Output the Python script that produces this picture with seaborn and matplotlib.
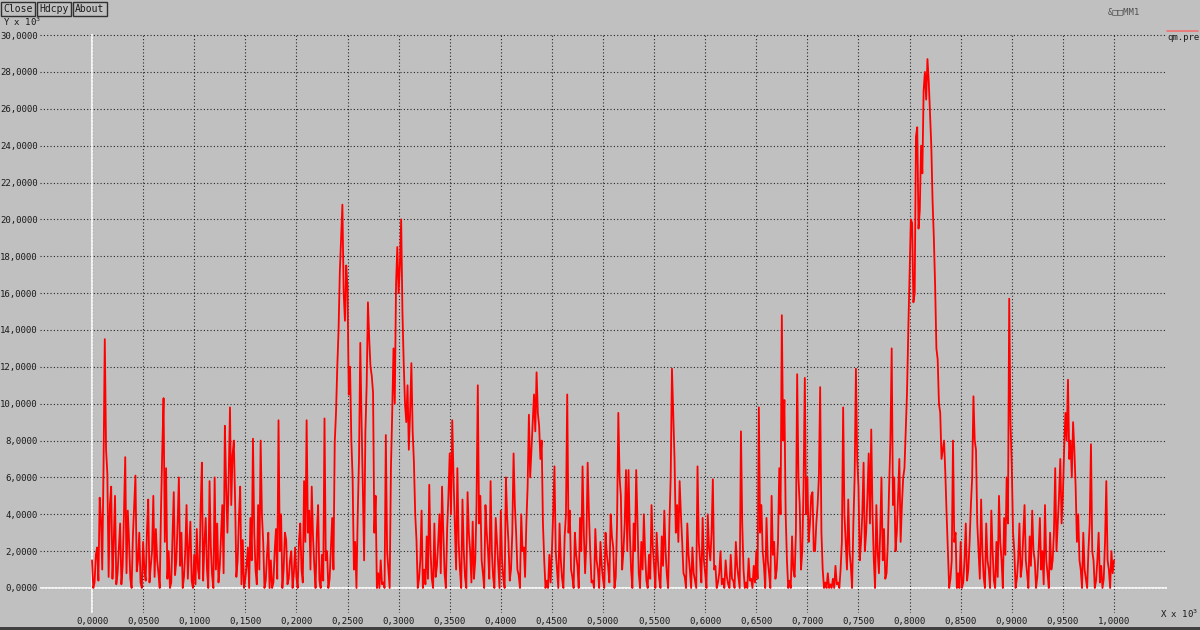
import numpy as np
import pandas as pd
import matplotlib.pyplot as plt
import seaborn as sns
from matplotlib.lines import Line2D
from matplotlib.patches import Rectangle

# values, Y in units of 10^3, one row = 0.025 of X (x 10^3)
qm_pre = [
    1.5, 0.0, 0.3, 1.8, 2.2, 0.4, 4.9, 3.8, 1.0, 6.5, 13.5, 7.5, 6.2, 0.6, 4.5, 5.5, 0.5, 2.5, 5.0, 0.2,
    0.8, 2.2, 3.5, 0.2, 1.2, 4.0, 7.1, 0.8, 4.2, 2.5, 0.5, 0.0, 2.8, 4.5, 6.1, 0.9, 1.5, 3.0, 0.3, 0.0,
    2.5, 1.0, 0.4, 3.0, 4.8, 0.3, 1.2, 2.0, 5.0, 0.6, 3.2, 1.5, 0.8, 0.0, 4.2, 7.5, 10.3, 2.5, 6.5, 0.5,
    2.0, 0.0, 0.3, 2.8, 5.2, 0.7, 1.5, 3.5, 6.0, 1.2, 3.0, 0.0, 0.6, 2.0, 4.5, 0.5, 2.2, 3.6, 0.4, 0.0,
    1.8, 0.2, 3.2, 1.0, 0.5, 4.2, 6.8, 0.4, 2.4, 3.8, 1.0, 0.0, 5.8, 2.2, 0.7, 0.0, 6.0, 1.0, 3.5, 0.3,
    1.2, 2.8, 4.5, 0.8, 8.8, 5.5, 3.0, 6.0, 9.8, 4.5, 7.2, 8.0, 4.8, 0.6, 1.5, 3.8, 5.5, 0.2, 2.6, 0.0,
    0.5, 1.2, 2.2, 0.0, 3.8, 1.5, 8.1, 3.0, 1.0, 0.2, 4.5, 1.0, 8.0, 4.0, 2.5, 0.0, 0.4, 1.8, 3.0, 0.0,
    1.5, 0.0, 0.3, 2.0, 3.2, 0.5, 9.1, 2.0, 4.0, 0.0, 1.0, 3.0, 2.6, 0.2, 0.5, 1.5, 2.0, 0.0, 0.8, 2.2,
    0.6, 0.0, 2.5, 3.5, 1.0, 0.3, 5.8, 2.5, 9.1, 3.0, 4.2, 1.0, 5.5, 2.8, 1.2, 0.0, 3.0, 4.5, 0.4, 0.0,
    1.8, 0.4, 9.2, 1.5, 2.0, 0.0, 0.5, 2.2, 3.8, 1.0, 7.9, 9.5, 12.0, 14.0, 17.2, 19.0, 20.8, 16.0, 14.5, 17.5,
    16.3, 10.5, 12.0, 8.0, 6.0, 1.0, 2.5, 0.0, 4.0, 7.0, 13.3, 9.0, 5.5, 1.5, 8.5, 11.0, 15.5, 13.5, 12.0, 11.5,
    10.6, 3.0, 5.0, 0.0, 0.8, 0.0, 1.5, 0.2, 0.3, 0.0, 8.3, 2.0, 1.0, 0.0, 6.5, 9.5, 13.0, 10.0, 16.5, 18.5,
    16.0, 17.5, 20.0, 15.0, 12.2, 10.0, 9.0, 11.0, 7.5, 9.5, 12.2, 8.5, 6.8, 4.0, 2.6, 0.0, 0.5, 1.5, 4.2, 0.0,
    1.0, 0.2, 2.8, 0.5, 5.6, 2.0, 0.5, 0.0, 3.5, 0.6, 1.2, 2.5, 4.0, 0.8, 5.5, 3.0, 0.8, 0.0, 3.2, 5.0,
    7.3, 4.0, 9.1, 6.0, 3.5, 1.0, 6.5, 2.5, 1.0, 0.0, 4.8, 2.0, 0.6, 0.0, 5.2, 3.0, 2.0, 0.3, 3.6, 0.5,
    1.5, 4.5, 11.0, 3.5, 5.0, 1.5, 0.8, 0.0, 4.5, 3.0, 2.0, 0.5, 5.8, 2.0, 0.6, 0.0, 3.8, 2.5, 1.2, 0.0,
    4.2, 1.5, 0.5, 0.0, 6.0, 3.8, 2.5, 0.4, 1.0, 3.0, 7.3, 4.5, 3.0, 1.0, 0.7, 0.0, 4.0, 2.0, 2.2, 0.6,
    3.5, 5.5, 9.4, 6.0, 7.5, 9.0, 10.5, 8.5, 11.7, 9.5, 8.8, 7.0, 8.0, 3.5, 1.5, 0.0, 0.4, 0.0, 1.8, 0.3,
    2.0, 4.0, 6.6, 2.0, 1.0, 0.0, 3.5, 1.5, 0.5, 0.0, 2.8, 4.0, 10.5, 3.0, 4.2, 1.0, 0.6, 0.0, 3.0, 1.8,
    1.2, 0.0, 3.8, 2.0, 6.6, 3.0, 0.8, 2.5, 6.8, 4.0, 2.0, 0.3, 0.4, 0.0, 3.2, 1.5, 1.0, 0.0, 2.5, 1.2,
    0.5, 0.0, 3.0, 1.8, 1.2, 0.3, 4.0, 2.8, 2.2, 0.0, 0.6, 3.5, 9.5, 6.0, 5.0, 1.0, 2.0, 3.5, 6.4, 2.0,
    6.4, 3.0, 1.0, 0.0, 3.5, 2.0, 6.4, 3.5, 0.8, 0.0, 2.5, 1.0, 4.0, 1.8, 0.4, 0.0, 1.8, 0.5, 4.5, 2.2,
    1.2, 0.0, 3.0, 1.5, 0.5, 0.0, 2.8, 1.2, 4.2, 2.0, 0.7, 0.0, 3.5, 6.0, 11.9, 9.5, 7.0, 3.0, 4.5, 2.5,
    5.8, 4.0, 2.5, 0.8, 0.6, 0.0, 3.5, 1.8, 1.0, 0.0, 2.2, 0.8, 0.4, 0.0, 6.6, 2.5, 1.5, 0.3, 3.8, 1.5,
    0.8, 0.0, 4.0, 2.2, 1.5, 3.0, 5.9, 1.0, 1.2, 0.0, 0.3, 0.8, 2.0, 0.2, 0.5, 0.0, 1.5, 0.6, 0.2, 0.0,
    1.8, 0.5, 0.4, 0.0, 2.5, 1.2, 0.6, 0.0, 8.5, 3.5, 1.0, 0.0, 0.3, 0.0, 1.6, 0.4, 0.5, 0.0, 1.2, 0.3,
    2.0, 0.5, 9.8, 3.0, 4.5, 2.0, 1.2, 0.0, 3.8, 1.5, 0.8, 0.0, 5.0, 1.8, 2.5, 0.5, 1.0, 2.5, 6.5, 4.0,
    14.8, 8.0, 10.2, 4.0, 1.5, 0.0, 0.4, 0.0, 2.8, 1.0, 0.6, 3.0, 11.6, 6.0, 4.5, 1.0, 2.0, 5.5, 11.4, 4.0,
    6.0, 2.5, 3.5, 5.0, 5.2, 2.0, 2.0, 3.5, 4.5, 6.0, 10.9, 3.0, 1.0, 0.0, 0.3, 0.0, 0.8, 0.0, 0.2, 0.0,
    0.5, 0.0, 1.2, 0.2, 0.3, 0.0, 1.0, 2.5, 9.8, 4.0, 2.5, 1.0, 4.8, 2.0, 1.2, 0.0, 3.5, 6.0, 11.9, 7.0,
    5.5, 1.5, 2.5, 4.0, 6.8, 2.0, 3.0, 5.0, 7.3, 3.5, 8.6, 4.0, 1.5, 0.0, 4.5, 2.0, 0.8, 3.0, 6.0, 1.5,
    3.2, 0.5, 0.8, 2.5, 5.5, 8.0, 13.0, 4.5, 6.0, 2.0, 3.0, 5.0, 7.0, 2.5, 4.5, 6.0, 6.5, 8.5, 10.6, 14.0,
    17.0, 20.0, 19.8, 15.5, 16.0, 24.5, 25.0, 19.5, 20.5, 24.0, 22.5, 27.0, 28.0, 26.5, 28.7, 27.5, 25.8, 24.0, 21.0, 19.0,
    16.4, 13.0, 12.4, 10.0, 9.5, 7.0, 7.5, 8.0, 6.2, 4.0, 2.0, 0.0, 0.5, 1.5, 8.0, 2.5, 3.0, 0.0, 0.8, 0.0,
    2.5, 0.0, 0.3, 1.5, 3.5, 0.4, 1.0, 2.5, 4.5, 6.0, 10.4, 8.0, 7.5, 3.5, 2.0, 0.5, 4.8, 2.0, 0.6, 0.0,
    3.5, 1.5, 1.0, 0.0, 4.2, 2.0, 0.4, 0.0, 2.5, 0.6, 5.0, 2.5, 1.5, 0.0, 3.8, 1.8, 6.0, 3.5, 15.7, 9.0,
    6.6, 3.0, 2.0, 0.0, 0.5, 1.5, 3.5, 0.6, 1.2, 2.8, 4.5, 1.5, 0.8, 0.0, 2.8, 1.2, 4.2, 2.0, 1.5, 0.0,
    0.6, 2.0, 3.8, 1.0, 2.0, 0.2, 4.5, 1.5, 0.8, 0.0, 3.0, 1.0, 1.5, 3.0, 6.5, 2.0, 3.5, 5.0, 7.0, 3.5,
    5.0, 7.5, 9.5, 8.0, 11.3, 7.0, 8.0, 6.0, 9.0, 7.5, 5.5, 2.5, 4.0, 1.5, 1.0, 0.0, 3.0, 1.0, 0.5, 0.0,
    2.0, 3.5, 7.8, 2.0, 1.5, 0.0, 0.4, 1.5, 3.0, 0.3, 1.2, 0.0, 0.5, 2.5, 5.8, 1.5, 1.0, 0.0, 2.0, 0.8,
    1.5,
]
x_start, x_end = 0.0, 1.0
x_ticks = [i * 0.05 for i in range(21)]
y_ticks = [i * 2 for i in range(16)]

bg = '#c0c0c0'
sns.set_style('whitegrid', {'axes.facecolor': bg, 'figure.facecolor': bg})
plt.rcParams['font.family'] = ['DejaVu Sans Mono', 'DejaVu Sans']

df = pd.DataFrame({'x': np.linspace(x_start, x_end, len(qm_pre)), 'y': qm_pre})

fig = plt.figure(figsize=(12, 6.3), dpi=100, facecolor=bg)
ax = fig.add_axes([40 / 1200, 17 / 630, 1127 / 1200, 579 / 630])
ax.set_facecolor(bg)

sns.lineplot(data=df, x='x', y='y', ax=ax, color='#ff0000', lw=1.3,
             estimator=None, sort=False, zorder=3)

ax.set_xlim(-0.0509, 1.0519)
ax.set_ylim(-1.357, 30.06)
ax.set_xticks(x_ticks)
ax.set_xticklabels([f'{v:.4f}'.replace('.', ',') for v in x_ticks])
ax.set_yticks(y_ticks)
ax.set_yticklabels([f'{v:.4f}'.replace('.', ',') for v in y_ticks])
ax.tick_params(axis='both', length=0, labelsize=6.5, colors='#1a1a1a')
ax.tick_params(axis='y', pad=1.5)
ax.tick_params(axis='x', pad=3.2)
ax.grid(True, color='black', linestyle=(0, (1, 2)), lw=0.8, alpha=0.8)
ax.set_axisbelow(True)
ax.axhline(0, color='white', lw=1.2, zorder=2)
ax.axvline(0, color='white', lw=1.2, zorder=2)
for s in ax.spines.values():
    s.set_visible(False)
ax.set_xlabel('')
ax.set_ylabel('')

# axis unit labels
fig.text(3 / 1200, 1 - 22 / 630, 'Y x 10$^3$', fontsize=6.5, color='#1a1a1a', va='center')
fig.text(1160 / 1200, 1 - 614 / 630, 'X x 10$^3$', fontsize=6.5, color='#1a1a1a', va='center')

# title and legend entry
fig.text(1124 / 1200, 1 - 12 / 630, '&\u25a1\u25a1MM1', fontsize=6.5, color='#505050',
         ha='center', va='center')
fig.add_artist(Line2D([1167 / 1200, 1198 / 1200], [1 - 31 / 630, 1 - 31 / 630],
                      color='#f07070', lw=1.2))
fig.text(1167 / 1200, 1 - 37 / 630, 'qm.pre', fontsize=6.5, color='#1a1a1a', va='center')

# buttons
for label, bx in [('Close', 3), ('Hdcpy', 39), ('About', 75)]:
    fig.text(bx / 1200, 1 - 9 / 630, label, fontsize=7, color='#1a1a1a', va='center',
             bbox=dict(boxstyle='square,pad=0.25', fc=bg, ec='#303030', lw=1))

fig.add_artist(Rectangle((0, 0), 1, 3 / 630, transform=fig.transFigure,
                         color='#404040', lw=0))

fig.savefig('out.png', dpi=100, facecolor=bg)
